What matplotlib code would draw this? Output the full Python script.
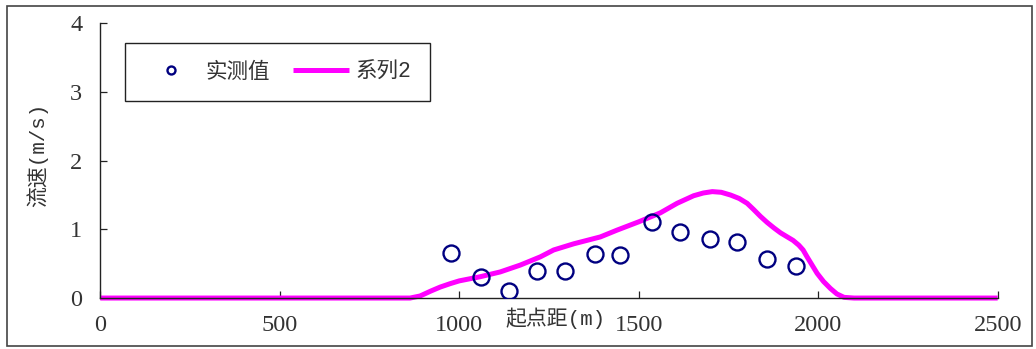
import matplotlib
matplotlib.use("Agg")
import matplotlib.pyplot as plt
from matplotlib.patches import Rectangle

plt.rcParams['font.family'] = ['Noto Sans CJK SC', 'DejaVu Sans']
label_family = ['Liberation Mono', 'Noto Sans CJK SC']

# Measured velocities
measured_x = [977, 1060, 1139, 1217, 1296, 1378, 1448, 1538, 1616, 1698, 1775, 1858, 1938]
measured_v = [0.66, 0.31, 0.10, 0.40, 0.40, 0.64, 0.62, 1.11, 0.96, 0.86, 0.81, 0.57, 0.47]

# Computed velocity profile (系列2)
series2_x = [0, 500, 835, 863, 891, 920, 947, 975, 1000, 1058, 1114, 1170, 1226,
             1263, 1319, 1393, 1440, 1500, 1560, 1607, 1653, 1680, 1705, 1730,
             1756, 1780, 1802, 1820, 1839, 1858, 1877, 1895, 1914, 1930, 1946,
             1958, 1969, 1983, 1997, 2015, 2034, 2052, 2072, 2100, 2500]
series2_v = [0, 0, 0, 0.0, 0.03, 0.10, 0.16, 0.21, 0.25, 0.31, 0.38, 0.48, 0.60,
             0.70, 0.79, 0.89, 0.99, 1.11, 1.24, 1.38, 1.49, 1.53, 1.55, 1.54,
             1.50, 1.45, 1.38, 1.29, 1.19, 1.10, 1.02, 0.95, 0.89, 0.84, 0.77,
             0.70, 0.60, 0.48, 0.36, 0.24, 0.14, 0.06, 0.01, 0, 0]

x_ticks = [0, 500, 1000, 1500, 2000, 2500]
y_ticks = [0, 1, 2, 3, 4]

fig = plt.figure(figsize=(10.36, 3.49), dpi=100)
ax = fig.add_axes([0.0968, 0.146, 0.8662, 0.787])

ax.plot(series2_x, series2_v, color='#FF00FF', lw=3.6, solid_capstyle='butt',
        label='系列2', clip_on=False, zorder=2)
ax.plot(measured_x, measured_v, linestyle='none', marker='o', ms=11.5,
        mfc='none', mec='#000080', mew=1.7, label='实测值', zorder=3)

ax.set_xlim(0, 2500)
ax.set_ylim(0, 4)
ax.set_xticks(x_ticks)
ax.set_yticks(y_ticks)
for s in ['top', 'right']:
    ax.spines[s].set_visible(False)
for s in ['left', 'bottom']:
    ax.spines[s].set_color('#222222')
    ax.spines[s].set_linewidth(1.0)
ax.tick_params(direction='in', length=5, width=0.9, color='#222222')
ax.tick_params(axis='x', pad=12)
ax.tick_params(axis='y', pad=13)
for lab in ax.get_xticklabels() + ax.get_yticklabels():
    lab.set_fontfamily('Liberation Serif')
    lab.set_fontsize(17.5)
    lab.set_color('#333333')

ax.set_xlabel('起点距(m)', fontsize=15, color='#333333', family=label_family)
ax.xaxis.set_label_coords(0.5075, -0.036)
ax.set_ylabel('流速(m/s)', fontsize=15, color='#333333', family=label_family)
ax.yaxis.set_label_coords(-0.058, 0.52)

handles, labels = ax.get_legend_handles_labels()
leg = ax.legend(handles[::-1], labels[::-1], ncol=2, loc='upper left',
                bbox_to_anchor=(0.027, 0.927), fancybox=False, framealpha=1,
                edgecolor='#222222', markerscale=0.5,
                prop={'family': label_family, 'size': 15.5},
                handlelength=2.6, columnspacing=1.1, borderpad=0.85,
                handletextpad=0.3, borderaxespad=0)
leg.get_frame().set_linewidth(1.0)
for t in leg.get_texts():
    t.set_color('#333333')

fig.patches.append(Rectangle((0.007, 0.008), 0.989, 0.975, transform=fig.transFigure,
                             fill=False, edgecolor='#444444', lw=1.2))

fig.savefig('out.png', dpi=100)
